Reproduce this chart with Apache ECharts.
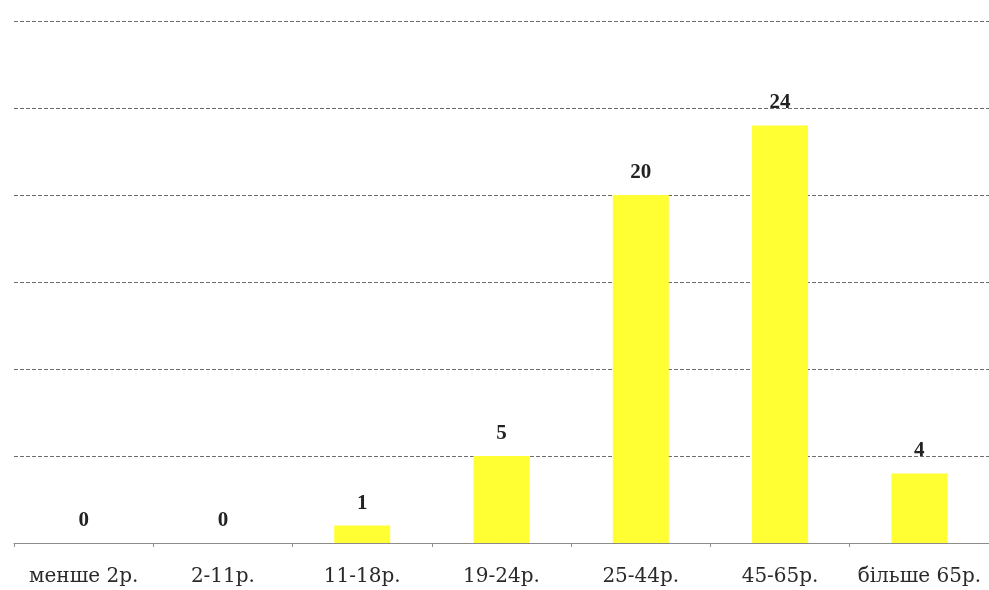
<!DOCTYPE html>
<html>
<head>
<meta charset="utf-8">
<script src="https://cdn.jsdelivr.net/npm/echarts@6/dist/echarts.min.js"></script>
<style>
  html, body { margin: 0; padding: 0; background: #fff; }
  #chart { width: 989px; height: 590px; }
</style>
</head>
<body>
<div id="chart"></div>
<script>
  // age groups and counts
  var categories = ['менше 2р.', '2-11р.', '11-18р.', '19-24р.', '25-44р.', '45-65р.', 'більше 65р.'];
  var counts = [0, 0, 1, 5, 20, 24, 4];

  var myChart = echarts.init(document.getElementById('chart'));

  var option = {
    animation: false,
    grid: { left: 14, right: 0, top: 21, bottom: 47, containLabel: false },
    xAxis: {
      type: 'category',
      data: categories,
      axisLine: { lineStyle: { color: '#8c8c8c', width: 1 } },
      axisTick: { show: true, length: 4, alignWithLabel: false, lineStyle: { color: '#8c8c8c' } },
      axisLabel: {
        color: '#2a2a2a',
        fontFamily: 'DejaVu Serif',
        fontSize: 20,
        margin: 24,
        interval: 0
      }
    },
    yAxis: {
      type: 'value',
      min: 0,
      max: 30,
      interval: 5,
      axisLine: { show: false },
      axisTick: { show: false },
      axisLabel: { show: false },
      splitLine: { lineStyle: { color: '#6e6e6e', type: [4, 2], width: 1 } }
    },
    series: [{
      type: 'bar',
      data: counts,
      barWidth: 56,
      itemStyle: { color: '#ffff33' },
      label: {
        show: true,
        position: 'top',
        distance: 12,
        color: '#222',
        fontFamily: 'Liberation Serif',
        fontWeight: 'bold',
        fontSize: 21
      }
    }]
  };

  myChart.setOption(option);
</script>
</body>
</html>
